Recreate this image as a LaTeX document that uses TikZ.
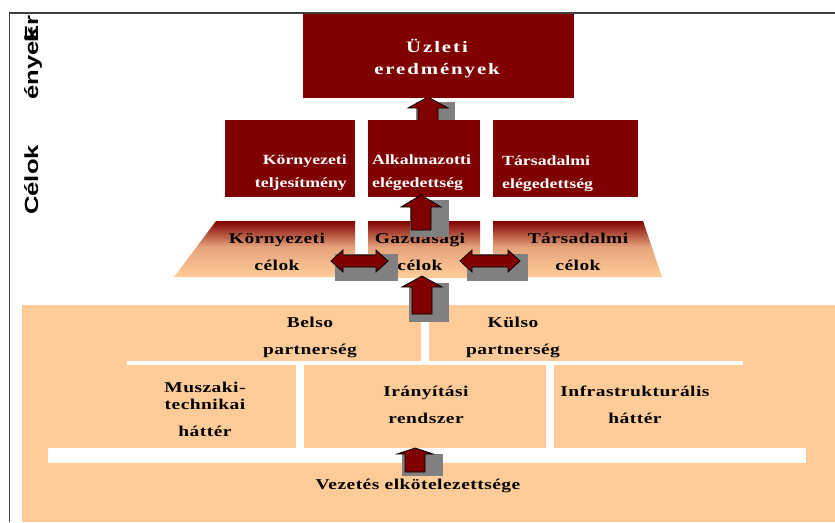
\documentclass[tikz,border=0pt]{standalone}
\usepackage{fontspec}
\setmainfont{Liberation Serif}
\newfontfamily\sidefont[FakeStretch=1.35]{Liberation Sans}
\newfontfamily\topfont[FakeStretch=1.3,LetterSpace=12]{Liberation Serif}
\newfontfamily\redfont[FakeStretch=1.27]{Liberation Serif}
\newfontfamily\celfont[FakeStretch=1.3,LetterSpace=3]{Liberation Serif}
\definecolor{dred}{HTML}{800000}
\definecolor{peach}{HTML}{FFCC99}
\definecolor{shadegray}{HTML}{808080}
\pgfdeclareverticalshading{celshade}{100bp}{color(0bp)=(peach); color(25bp)=(peach); color(52bp)=(peach!80!dred); color(75bp)=(dred); color(100bp)=(dred)}
\begin{document}
\begin{tikzpicture}[x=1pt,y=-1pt,
    redbox/.style={fill=dred,inner sep=0pt,minimum height=77},
    redtxt/.style={text=white,inner sep=0pt,font=\redfont\bfseries\fontsize{14}{23}\selectfont},
    celtxt/.style={inner sep=0pt,align=center,font=\celfont\bfseries\fontsize{15}{27}\selectfont},
    sidetxt/.style={rotate=90,inner sep=0pt,anchor=base west,font=\sidefont\bfseries\fontsize{19}{19}\selectfont},
    blockarr/.style={fill=dred,draw=black,line width=0.8pt},
    shadowbox/.style={fill=shadegray},
    whitegap/.style={fill=white}]
  \useasboundingbox (0,0) rectangle (835,522);
  % frame
  \draw[black!75,line width=1.2pt] (9.5,522) -- (9.5,13) -- (835,13);
  % side labels
  \node[sidetxt] (erlbl) at (38,43) {Er};
  \node[sidetxt] (enyeklbl) at (38,100) {ények};
  \node[sidetxt] (celoklbl) at (38,215) {Célok};
  \node[sidetxt] (eroflbl) at (39,465) {Eroforrások};
  % top box
  \fill[shadowbox] (416,102) rectangle (455,120);
  \draw[blockarr] (428,97) -- (448,108) -- (438,108) -- (438,121) -- (418,121) -- (418,108) -- (408,108) -- cycle;
  \node[redbox,minimum width=271,minimum height=84] (eredm) at (438.5,56) {};
  \node[text=white,inner sep=0pt,align=center,anchor=base,
        font=\topfont\bfseries\fontsize{16}{22}\selectfont] (eredmtxt) at (437,74) {Üzleti\\eredmények};
  % second row
  \node[redbox,minimum width=130] (kteljes) at (290,158.5) {};
  \node[redbox,minimum width=112] (alkalm) at (424,158.5) {};
  \node[redbox,minimum width=145] (tarsel) at (565.5,158.5) {};
  \node[redtxt,align=right,anchor=base east] (kteljestxt) at (347,187) {Környezeti\\teljesítmény};
  \node[redtxt,align=left,anchor=base west] (alkalmtxt) at (372,187) {Alkalmazotti\\elégedettség};
  \node[redtxt,align=left,anchor=base west] (tarseltxt) at (502,188) {Társadalmi\\elégedettség};
  % goals
  \shade[shading=celshade] (216,221) -- (355,221) -- (355,277) -- (174,277) -- cycle;
  \shade[shading=celshade] (368,221) rectangle (480,277);
  \shade[shading=celshade] (493,221) -- (643,221) -- (662,277) -- (493,277) -- cycle;
  \node[celtxt,anchor=base] (kcel) at (277,270) {Környezeti\\célok};
  \node[celtxt,anchor=base] (gcel) at (420,270) {Gazdasági\\célok};
  \node[celtxt,anchor=base] (tcel) at (578,270) {Társadalmi\\célok};
  % resources
  \fill[peach] (22,305) rectangle (835,522);
  \fill[whitegap] (127,361) rectangle (743,365);
  \fill[whitegap] (421,305) rectangle (429,361);
  \fill[whitegap] (296,365) rectangle (304,448);
  \fill[whitegap] (546,365) rectangle (554,448);
  \fill[whitegap] (48,448) rectangle (806,463);
  \node[celtxt,anchor=base] (belso) at (310,354) {Belso\\partnerség};
  \node[celtxt,anchor=base] (kulso) at (513,354) {Külso\\partnerség};
  \node[celtxt,anchor=base,font=\celfont\bfseries\fontsize{15}{17}\selectfont]
    (muszaki) at (205,436) {Muszaki-\\technikai\\[10pt]háttér};
  \node[celtxt,anchor=base] (iranyit) at (426,423) {Irányítási\\rendszer};
  \node[celtxt,anchor=base] (infra) at (635,423) {Infrastrukturális\\háttér};
  \node[celtxt,anchor=base] (vezetes) at (418,489) {Vezetés elkötelezettsége};
  % arrows
  \fill[shadowbox] (410,200) rectangle (449,237);
  \draw[blockarr] (421,195) -- (441,207) -- (431,207) -- (431,230) -- (411,230) -- (411,207) -- (401,207) -- cycle;
  \fill[shadowbox] (335,254) rectangle (398,281);
  \draw[blockarr] (331,261) -- (343,250) -- (343,255) -- (376,255) -- (376,250) -- (388,261)
    -- (376,272) -- (376,267) -- (343,267) -- (343,272) -- cycle;
  \fill[shadowbox] (467,254) rectangle (528,281);
  \draw[blockarr] (460,261) -- (472,250) -- (472,255) -- (508,255) -- (508,250) -- (520,261)
    -- (508,272) -- (508,267) -- (472,267) -- (472,272) -- cycle;
  \fill[shadowbox] (409,283) rectangle (449,322);
  \draw[blockarr] (422,276) -- (442,287) -- (432,287) -- (432,314) -- (412,314) -- (412,287) -- (402,287) -- cycle;
  \fill[shadowbox] (402,454) rectangle (443,476);
  \draw[blockarr] (415,448) -- (433,454) -- (425,454) -- (425,472) -- (405,472) -- (405,454) -- (397,454) -- cycle;
\end{tikzpicture}
\end{document}
